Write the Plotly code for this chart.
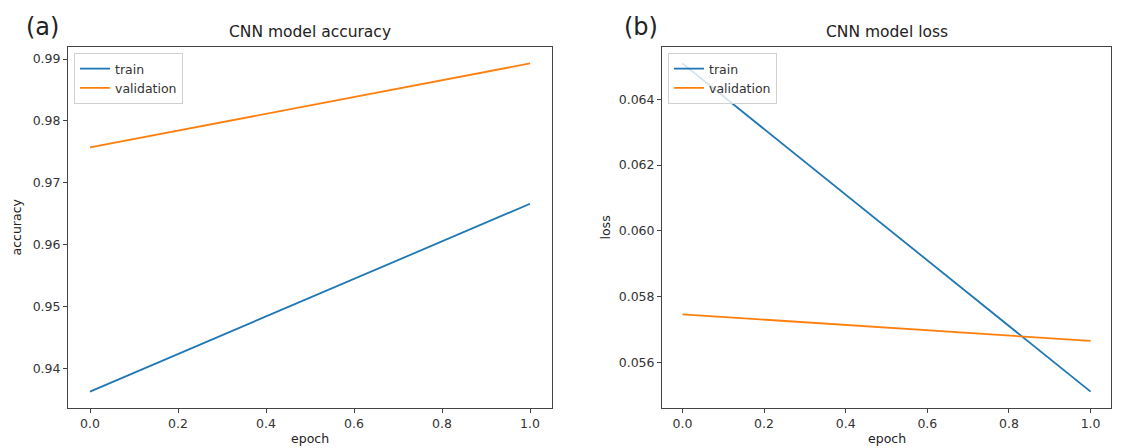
import plotly.graph_objects as go

epochs = [0, 1]
acc_train = [0.93628, 0.96662]
acc_val = [0.97573, 0.98930]
loss_train = [0.06509, 0.05511]
loss_val = [0.05746, 0.05665]

acc_ticks = [0.94, 0.95, 0.96, 0.97, 0.98, 0.99]
loss_ticks = [0.056, 0.058, 0.060, 0.062, 0.064]
x_ticks = [0.0, 0.2, 0.4, 0.6, 0.8, 1.0]

BLUE = "#1f77b4"
ORANGE = "#ff7f0e"
FONT = "DejaVu Sans"
W, H = 1142, 448

fig = go.Figure()
fig.add_trace(go.Scatter(x=epochs, y=acc_train, mode="lines", name="train",
                         line=dict(color=BLUE, width=1.8), xaxis="x", yaxis="y", legend="legend"))
fig.add_trace(go.Scatter(x=epochs, y=acc_val, mode="lines", name="validation",
                         line=dict(color=ORANGE, width=1.8), xaxis="x", yaxis="y", legend="legend"))
fig.add_trace(go.Scatter(x=epochs, y=loss_train, mode="lines", name="train",
                         line=dict(color=BLUE, width=1.8), xaxis="x2", yaxis="y2", legend="legend2"))
fig.add_trace(go.Scatter(x=epochs, y=loss_val, mode="lines", name="validation",
                         line=dict(color=ORANGE, width=1.8), xaxis="x2", yaxis="y2", legend="legend2"))

# panel pixel geometry
L1, R1 = 68, 552
L2, R2 = 662, 1111
T, B = 47, 408

def dx(px):
    return px / W

def dy(py):
    return 1 - py / H

axis_common = dict(showgrid=False, zeroline=False, showline=True, linecolor="#444",
                   linewidth=1, mirror=True, ticks="outside", ticklen=4, tickcolor="#444",
                   tickfont=dict(family=FONT, size=12.5, color="#333"))

def span(lo, hi):
    m = (hi - lo) * 0.05
    return [lo - m, hi + m]

xr = span(min(epochs), max(epochs))
acc_all = acc_train + acc_val
loss_all = loss_train + loss_val

fig.update_layout(
    width=W, height=H, margin=dict(l=0, r=0, t=0, b=0),
    paper_bgcolor="white", plot_bgcolor="white",
    font=dict(family=FONT, color="#333"),
    xaxis=dict(domain=[dx(L1), dx(R1)], range=xr, tickvals=x_ticks, tickformat=".1f", anchor="y", **axis_common),
    yaxis=dict(domain=[dy(B), dy(T)], range=span(min(acc_all), max(acc_all)), tickvals=acc_ticks,
               tickformat=".2f", anchor="x", **axis_common),
    xaxis2=dict(domain=[dx(L2), dx(R2)], range=xr, tickvals=x_ticks, tickformat=".1f", anchor="y2", **axis_common),
    yaxis2=dict(domain=[dy(B), dy(T)], range=span(min(loss_all), max(loss_all)), tickvals=loss_ticks,
                tickformat=".3f", anchor="x2", **axis_common),
    legend=dict(x=dx(L1 + 6), y=dy(T + 6), xanchor="left", yanchor="top", bgcolor="rgba(255,255,255,0.8)",
                bordercolor="#d0d0d0", borderwidth=1, font=dict(family=FONT, size=12.5, color="#333"),
                tracegroupgap=0, itemwidth=30),
    legend2=dict(x=dx(L2 + 6), y=dy(T + 6), xanchor="left", yanchor="top", bgcolor="rgba(255,255,255,0.8)",
                 bordercolor="#d0d0d0", borderwidth=1, font=dict(family=FONT, size=12.5, color="#333"),
                 tracegroupgap=0, itemwidth=30),
)

ann = []
def text(x, y, s, size, xanchor="center", yanchor="middle", angle=0):
    ann.append(dict(x=dx(x), y=dy(y), xref="paper", yref="paper", text=s, showarrow=False,
                    xanchor=xanchor, yanchor=yanchor, textangle=angle,
                    font=dict(family=FONT, size=size, color="#222")))

text((L1 + R1) / 2, 32, "CNN model accuracy", 15.5)
text((L2 + R2) / 2, 32, "CNN model loss", 15.5)
text(42, 27, "(a)", 24)
text(641, 27, "(b)", 24)
text(16, (T + B) / 2, "accuracy", 12.5, angle=-90)
text(605, (T + B) / 2, "loss", 12.5, angle=-90)
text((L1 + R1) / 2, 438, "epoch", 12.5)
text((L2 + R2) / 2, 438, "epoch", 12.5)
fig.update_layout(annotations=ann)

fig.write_html("out.html")
